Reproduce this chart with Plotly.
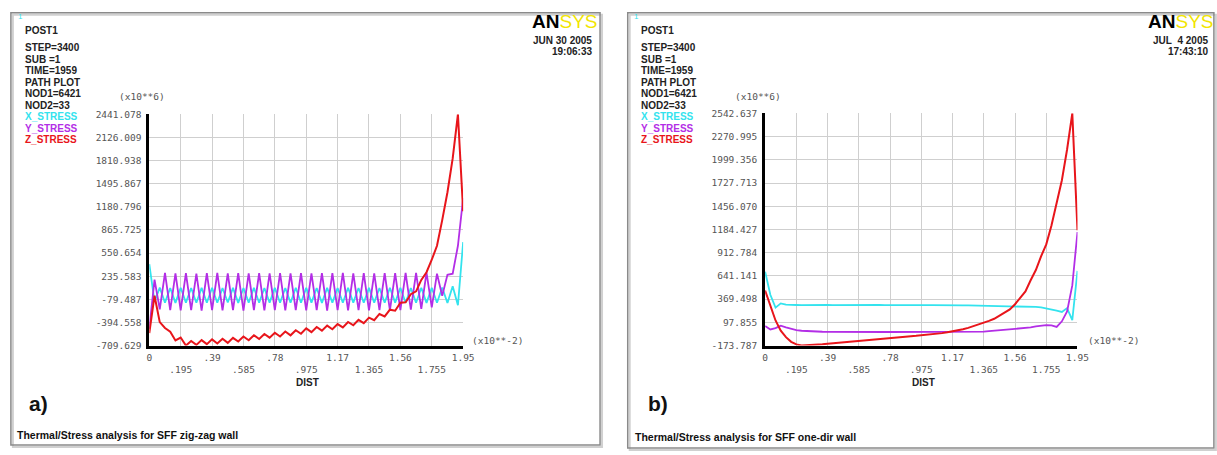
import plotly.graph_objects as go

W, H = 1217, 455

# ---------------- data ----------------
dist = [0, 0.0325, 0.065, 0.0975, 0.13, 0.1625, 0.195, 0.2275, 0.26, 0.2925,
        0.325, 0.3575, 0.39, 0.4225, 0.455, 0.4875, 0.52, 0.5525, 0.585, 0.6175,
        0.65, 0.6825, 0.715, 0.7475, 0.78, 0.8125, 0.845, 0.8775, 0.91, 0.9425,
        0.975, 1.0075, 1.04, 1.0725, 1.105, 1.1375, 1.17, 1.2025, 1.235, 1.2675,
        1.3, 1.3325, 1.365, 1.3975, 1.43, 1.4625, 1.495, 1.5275, 1.56, 1.5925,
        1.625, 1.6575, 1.69, 1.7225, 1.755, 1.7875, 1.82, 1.8525, 1.885, 1.9175,
        1.95]

# panel a) zig-zag wall  (x10**6)
a_x_stress = [400, -110, 80, -125, 75, -128, 78, -124, 74, -127,
              76, -125, 79, -126, 75, -123, 77, -128, 74, -125,
              78, -126, 75, -124, 77, -127, 74, -125, 79, -126,
              76, -124, 75, -128, 77, -125, 74, -126, 78, -124,
              75, -127, 77, -125, 74, -126, 78, -124, 76, -127,
              75, -125, 78, -128, 76, -126, 80, -130, 100, -160,
              700]
a_y_stress = [-480, 190, -215, 280, -225, 275, -230, 278, -228, 272,
              -232, 276, -226, 280, -230, 274, -228, 278, -232, 275,
              -226, 279, -230, 273, -228, 277, -231, 275, -227, 279,
              -230, 274, -228, 278, -232, 276, -226, 280, -230, 275,
              -228, 277, -231, 274, -226, 279, -230, 276, -225, 280,
              -220, 282, -210, 285, -190, 270, -30, 255, 270, 650,
              1300]
a_z_stress = [-540, -30, -390, -470, -520, -640, -600, -709.629, -648, -700,
              -635, -690, -625, -680, -616, -673, -604, -655, -586, -637,
              -568, -620, -551, -602, -534, -586, -518, -570, -500, -548,
              -475, -526, -456, -506, -437, -487, -417, -462, -388, -433,
              -359, -404, -329, -364, -279, -313, -220, -235, -125, -120,
              -10, 30, 185, 290, 460, 650, 1000, 1380, 1840, 2441.078,
              1121]

# panel b) one-dir wall  (x10**6)
b_x_stress = [690, 420, 270, 320, 305, 300, 301, 300, 302, 301,
              300, 301, 302, 300, 301, 300, 302, 301, 300, 301,
              300, 302, 301, 300, 301, 300, 299, 300, 301, 300,
              299, 300, 299, 300, 299, 298, 299, 297, 296, 296,
              295, 294, 293, 292, 291, 290, 289, 288, 287, 286,
              285, 282, 278, 272, 262, 250, 235, 220, 265, 125,
              700]
b_y_stress = [55, 15, 30, 60, 40, 20, 8, 0, -5, -8,
              -10, -12, -13, -14, -14, -15, -15, -15, -15, -15,
              -15, -15, -15, -15, -15, -15, -15, -15, -15, -14,
              -14, -14, -14, -14, -14, -13, -13, -13, -13, -13,
              -12, -12, -10, -5, 0, 5, 10, 15, 18, 22,
              28, 38, 50, 60, 65, 63, 45, 110, 225, 530,
              1155]
b_z_stress = [470, 290, 120, 0, -75, -130, -160, -173.787, -172, -168,
              -164, -158, -152, -146, -141, -136, -130, -124, -118, -112,
              -106, -100, -95, -90, -85, -80, -75, -70, -65, -60,
              -55, -49, -43, -36, -28, -19, -9, 3, 17, 33,
              52, 72, 93, 115, 140, 175, 212, 250, 310, 380,
              460, 590, 710, 870, 1010, 1230, 1490, 1760, 2120, 2542.637,
              1175]

a_ytick_labels = ["-709.629", "-394.558", "-79.487", "235.583", "550.654", "865.725",
                  "1180.796", "1495.867", "1810.938", "2126.009", "2441.078"]
b_ytick_labels = ["-173.787", "97.855", "369.498", "641.141", "912.784", "1184.427",
                  "1456.070", "1727.713", "1999.356", "2270.995", "2542.637"]
xtick_labels = ["0", ".195", ".39", ".585", ".78", ".975", "1.17", "1.365", "1.56", "1.755", "1.95"]

series_names = ["X_STRESS", "Y_STRESS", "Z_STRESS"]
series_colors = ["#33e3ee", "#b32ee6", "#e8151b"]

header_a = ["STEP=3400", "SUB =1", "TIME=1959", "PATH PLOT", "NOD1=6421", "NOD2=33"]
header_b = ["STEP=3400", "SUB =1", "TIME=1959", "PATH PLOT", "NOD1=6421", "NOD2=33"]
date_a = ["JUN 30 2005", "19:06:33"]
date_b = ["JUL\u00a0 4 2005", "17:43:10"]
footer_a = "Thermal/Stress analysis for SFF zig-zag wall"
footer_b = "Thermal/Stress analysis for SFF one-dir wall"


def px(x):
    return x / W


def py(y):
    return 1 - y / H


fig = go.Figure()

panels = [
    dict(xa="x", ya="y", data=[a_x_stress, a_y_stress, a_z_stress], ylab=a_ytick_labels,
         dom_x=(148, 465.5), dom_y=(111, 348), dx=0, header=header_a, date=date_a,
         footer=footer_a, tag="a)", box=(8, 7, 604, 450), footer_y=440),
    dict(xa="x2", ya="y2", data=[b_x_stress, b_y_stress, b_z_stress], ylab=b_ytick_labels,
         dom_x=(771, 1087), dom_y=(110, 348), dx=623, header=header_b, date=date_b,
         footer=footer_b, tag="b)", box=(632, 7, 1225, 453), footer_y=442),
]

MONO = "DejaVu Sans Mono"
SANS = "Liberation Sans"

shapes = []
annotations = []

for i, p in enumerate(panels):
    for s, vals in enumerate(p["data"]):
        fig.add_trace(go.Scatter(
            x=dist, y=vals, mode="lines", name=series_names[s],
            line=dict(color=series_colors[s], width=2.0 if s == 2 else 1.8),
            xaxis=p["xa"], yaxis=p["ya"], showlegend=False,
            hoverinfo="x+y+name"))

    yvals = [float(v) for v in p["ylab"]]
    xvals = [float(v) for v in xtick_labels]
    xtext = [t if j % 2 == 0 else "\u00a0<br>" + t for j, t in enumerate(xtick_labels)]
    suffix = "" if i == 0 else "2"
    fig.update_layout(**{
        "xaxis" + suffix: dict(
            domain=[px(p["dom_x"][0]), px(p["dom_x"][1])], anchor="y" + suffix,
            range=[0, 1.95], tickvals=xvals, ticktext=xtext,
            showgrid=True, gridcolor="#cfcfcf", gridwidth=1,
            showline=True, linecolor="#000000", linewidth=3, mirror=False,
            zeroline=False, ticks="", ticklabelstandoff=1,
            tickfont=dict(family=MONO, size=9.5, color="#555555")),
        "yaxis" + suffix: dict(
            domain=[py(p["dom_y"][1]), py(p["dom_y"][0])], anchor="x" + suffix,
            range=[yvals[0], yvals[-1]], tickvals=yvals, ticktext=p["ylab"],
            showgrid=True, gridcolor="#cfcfcf", gridwidth=1,
            showline=True, linecolor="#000000", linewidth=3, mirror=False,
            zeroline=False, ticks="", ticklabelstandoff=3,
            tickfont=dict(family=MONO, size=9.5, color="#555555")),
    })

    dx = p["dx"]
    x0, y0, x1, y1 = p["box"]
    # shadow + frame
    shapes.append(dict(type="rect", xref="paper", yref="paper",
                       x0=px(x0 + 2), y0=py(y1 + 2), x1=px(x1 + 2), y1=py(y0 + 2),
                       line=dict(color="#d0d0d0", width=2), fillcolor="rgba(0,0,0,0)", layer="below"))
    shapes.append(dict(type="rect", xref="paper", yref="paper",
                       x0=px(x0), y0=py(y1), x1=px(x1), y1=py(y0),
                       line=dict(color="#8a8a8a", width=1.5), fillcolor="rgba(0,0,0,0)", layer="below"))

    def ann(text, x, y, size=10, color="#222222", family=SANS, xanchor="left"):
        annotations.append(dict(text=text, x=px(x), y=py(y), xref="paper", yref="paper",
                                showarrow=False, xanchor=xanchor, yanchor="middle",
                                font=dict(family=family, size=size, color=color)))

    ann("1", 13 + dx, 11, size=8, color="#33e3ee", family=SANS)
    ann("<b>POST1</b>", 20 + dx, 25)
    hy = [43, 54.5, 66.5, 78.5, 90, 101.5]
    for t, yy in zip(p["header"], hy):
        ann("<b>" + t + "</b>", 20 + dx, yy)
    for s, yy in zip(range(3), [113.5, 125.5, 137]):
        ann("<b>" + series_names[s] + "</b>", 20 + dx, yy, color=series_colors[s])

    ann("(x10**6)", 141 + dx, 93, size=9.5, color="#555555", family=MONO, xanchor="center")
    ann("(x10**-2)", 500 + dx, 343, size=9.5, color="#555555", family=MONO, xanchor="center")
    ann("<b>DIST</b>", 308 + dx, 385.5, size=10, xanchor="center")

    ann("<b>AN</b><span style='color:#f2e500'>SYS</span>", 603 + dx, 16, size=19,
        color="#000000", xanchor="right")
    ann("<b>" + p["date"][0] + "</b>", 598 + dx, 35, size=10, xanchor="right")
    ann("<b>" + p["date"][1] + "</b>", 598 + dx, 46.5, size=10, xanchor="right")

    ann("<b>" + p["tag"] + "</b>", 24 + dx + (3 if i else 0), 407, size=21, color="#111111")
    ann("<b>" + p["footer"] + "</b>", 12 + dx + (2 if i else 0), p["footer_y"], size=10.5, color="#111111")

fig.update_layout(
    width=W, height=H, margin=dict(l=0, r=0, t=0, b=0),
    paper_bgcolor="white", plot_bgcolor="white",
    shapes=shapes, annotations=annotations, showlegend=False,
)

fig.write_html("out.html", config={"displayModeBar": False},
               post_script="document.body.style.margin='0';document.body.style.overflow='hidden';")
